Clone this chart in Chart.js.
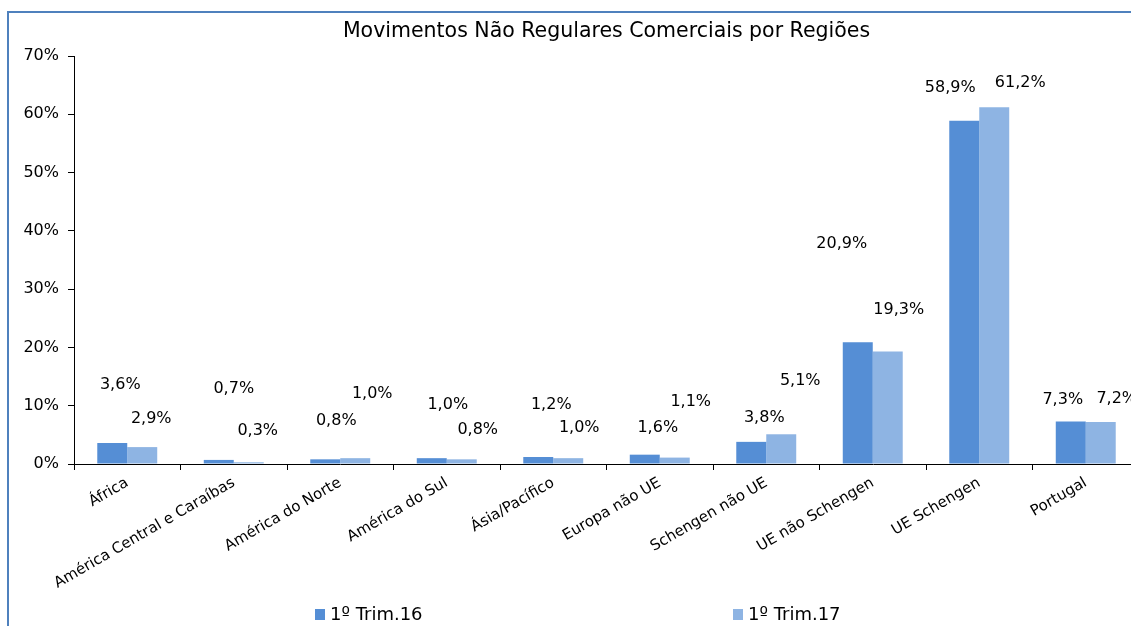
<!DOCTYPE html>
<html>
<head>
<meta charset="utf-8">
<title>Movimentos Não Regulares Comerciais por Regiões</title>
<script src="https://cdn.jsdelivr.net/npm/chart.js@4.4.1/dist/chart.umd.min.js"></script>
<style>
  body { margin: 0; width: 1131px; height: 626px; overflow: hidden; background: #fff; position: relative; font-family: "DejaVu Sans", sans-serif; }
  #frame { position: absolute; left: 7px; top: 11px; width: 1400px; height: 800px; border-left: 2px solid #4F81BD; border-top: 2px solid #4F81BD; }
  #chartBox { position: absolute; left: 10px; top: 13px; }
  .legend-item { position: absolute; top: 603px; font-size: 18px; line-height: 22px; color: #000; white-space: nowrap; }
  .legend-item i { display: inline-block; width: 10px; height: 11px; margin-right: 5px; }
</style>
</head>
<body>
<div id="frame"></div>
<div id="chartBox"><canvas id="regionsChart" width="1192" height="613"></canvas></div>
<div id="legend"></div>
<script>
// dados (%)
const categories = ['África', 'América Central e Caraíbas', 'América do Norte', 'América do Sul', 'Ásia/Pacífico',
    'Europa não UE', 'Schengen não UE', 'UE não Schengen', 'UE Schengen', 'Portugal'];
const seriesNames = ['1º Trim.16', '1º Trim.17'];
const trim16 = [3.6, 0.7, 0.8, 1.0, 1.2, 1.6, 3.8, 20.9, 58.9, 7.3];
const trim17 = [2.9, 0.3, 1.0, 0.8, 1.0, 1.1, 5.1, 19.3, 61.2, 7.2];
const yTickValues = [0, 10, 20, 30, 40, 50, 60, 70];

// onde o Excel deixou as etiquetas (px acima / ao lado da barra)
const labelLift = [
    [58, 71, 38, 53, 52, 27, 24, 98, 33, 22],
    [28, 31, 64, 29, 30, 56, 53, 42, 24, 23]
];
const labelShiftX = [
    [8, 15, 11, 16, 13, 13, 13, -16, -14, -8],
    [9, 9, 17, 16, 11, 16, 19, 11, 26, 16]
];

const colors = ['#558ED5', '#8EB4E3'];

Chart.defaults.font.family = '"DejaVu Sans", sans-serif';
Chart.defaults.color = '#000';

const valueLabels = {
    id: 'valueLabels',
    afterDatasetsDraw(chart) {
        const ctx = chart.ctx;
        ctx.save();
        ctx.font = '16px "DejaVu Sans"';
        ctx.fillStyle = '#000';
        ctx.textAlign = 'center';
        ctx.textBaseline = 'middle';
        chart.data.datasets.forEach((ds, i) => {
            chart.getDatasetMeta(i).data.forEach((bar, j) => {
                const text = ds.data[j].toFixed(1).replace('.', ',') + '%';
                ctx.fillText(text, bar.x + labelShiftX[i][j], bar.y - labelLift[i][j]);
            });
        });
        ctx.restore();
    }
};

const ctx = document.getElementById('regionsChart').getContext('2d');
const regionsChart = new Chart(ctx, {
    type: 'bar',
    data: {
        labels: categories,
        datasets: [
            { label: seriesNames[0], data: trim16, backgroundColor: colors[0] },
            { label: seriesNames[1], data: trim17, backgroundColor: colors[1] }
        ]
    },
    options: {
        responsive: false,
        animation: false,
        devicePixelRatio: 1,
        categoryPercentage: 0.563,
        barPercentage: 1,
        layout: { padding: { top: 0, right: 63, bottom: 12, left: 0 } },
        plugins: {
            legend: { display: false },
            tooltip: { enabled: false },
            title: {
                display: true,
                text: 'Movimentos Não Regulares Comerciais por Regiões',
                fullSize: false,
                color: '#000',
                font: { size: 20.5, weight: 'normal' },
                padding: { top: 6, bottom: 12.4 }
            }
        },
        scales: {
            x: {
                grid: { drawOnChartArea: false, drawTicks: true, tickLength: 6, color: '#000', offset: true },
                border: { color: '#000' },
                ticks: { minRotation: 30, maxRotation: 30, autoSkip: false, padding: 4, color: '#000', font: { size: 15 } },
                afterFit(scale) { scale.height = 150; }
            },
            y: {
                min: 0,
                max: 70,
                afterBuildTicks(scale) { scale.ticks = yTickValues.map(v => ({ value: v })); },
                ticks: { callback: v => v + '%', padding: 9, color: '#000', font: { size: 16 } },
                grid: { drawOnChartArea: false, tickLength: 6, color: '#000' },
                border: { color: '#000' },
                afterFit(scale) { scale.width = 64; }
            }
        }
    },
    plugins: [valueLabels]
});

// legenda em baixo, como no original
const legendLeft = [315, 733];
const legend = document.getElementById('legend');
regionsChart.data.datasets.forEach((ds, i) => {
    const item = document.createElement('div');
    item.className = 'legend-item';
    item.style.left = legendLeft[i] + 'px';
    item.innerHTML = '<i style="background:' + ds.backgroundColor + '"></i>' + ds.label;
    legend.appendChild(item);
});
</script>
</body>
</html>
